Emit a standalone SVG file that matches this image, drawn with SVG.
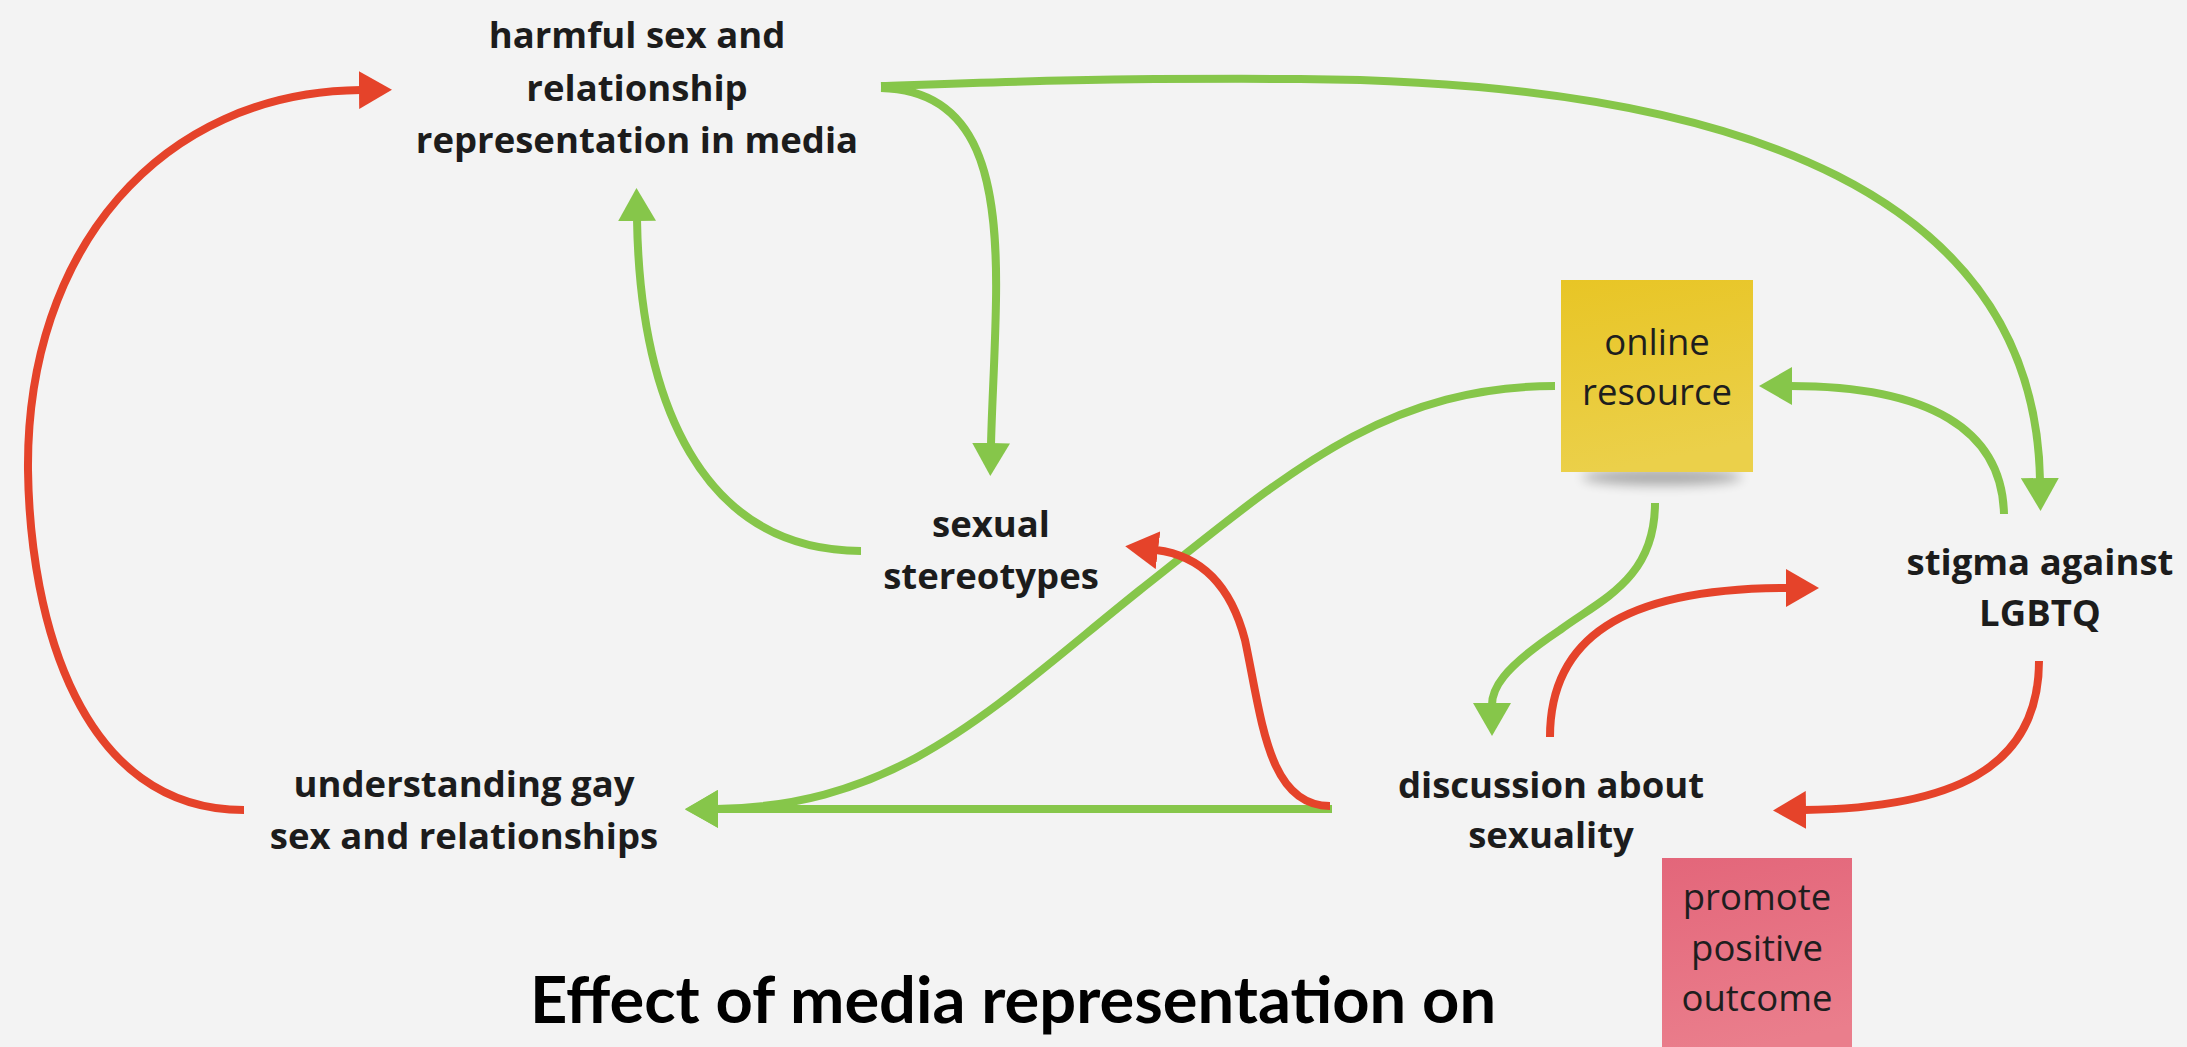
<svg xmlns="http://www.w3.org/2000/svg" width="2187" height="1047" viewBox="0 0 2187 1047">
<defs>
<style>
.lbl{font-family:"Open Sans","Noto Sans","Liberation Sans",sans-serif;font-weight:700;font-size:36.5px;fill:#1c1c1c;text-anchor:middle}
.stk{font-family:"Open Sans","Noto Sans","Liberation Sans",sans-serif;font-weight:400;font-size:36.5px;fill:#1e1e1e;text-anchor:middle}
.ttl{font-family:"Lato","Open Sans","Liberation Sans",sans-serif;font-weight:700;font-size:65px;fill:#000;text-anchor:middle}
.g{fill:none;stroke:#86C64A;stroke-width:8;stroke-linecap:butt}
.r{fill:none;stroke:#E5432A;stroke-width:8;stroke-linecap:butt}
</style>
<marker id="ag" markerUnits="userSpaceOnUse" markerWidth="34" markerHeight="38" viewBox="0 0 34 38" refX="2" refY="19" orient="auto">
<path d="M0,0 L33,19 L0,38 Z" fill="#86C64A"/>
</marker>
<marker id="ar" markerUnits="userSpaceOnUse" markerWidth="34" markerHeight="38" viewBox="0 0 34 38" refX="2" refY="19" orient="auto">
<path d="M0,0 L33,19 L0,38 Z" fill="#E5432A"/>
</marker>
<linearGradient id="yel" x1="0" y1="0" x2="0.2" y2="1">
<stop offset="0" stop-color="#E8C525"/>
<stop offset="1" stop-color="#EBD04A"/>
</linearGradient>
<linearGradient id="pnk" x1="0" y1="0" x2="0.2" y2="1">
<stop offset="0" stop-color="#E3667A"/>
<stop offset="1" stop-color="#EA7E8C"/>
</linearGradient>
<filter id="blur" x="-20%" y="-100%" width="140%" height="300%">
<feGaussianBlur stdDeviation="6"/>
</filter>
</defs>
<rect width="2187" height="1047" fill="#F3F3F3"/>

<g id="connectors">
<path class="r" d="M244 810 C80 810 30 620 28 470 C26 250 160 92 361 90" marker-end="url(#ar)"/>
<path class="g" d="M881 86 C1000 82 1100 78 1300 79 C1750 82 2035 200 2040 480" marker-end="url(#ag)"/>
<path class="g" d="M881 88 C980 90 998 180 996 300 C995 360 992 400 991 445" marker-end="url(#ag)"/>
<path class="g" d="M861 551 C700 550 640 400 637 219" marker-end="url(#ag)"/>
<path class="g" d="M1555 386 C1380 386 1280 480 1140 590 C990 710 900 806 716 809" marker-end="url(#ag)"/>
<path class="g" d="M1332 809 L716 809" marker-end="url(#ag)"/>
<path class="r" d="M1330 806 C1268 806 1262 720 1245 640 C1232 590 1205 556 1156 550" marker-end="url(#ar)"/>
<path class="g" d="M2004 514 C2002 430 1930 386 1790 386" marker-end="url(#ag)"/>
<path class="g" d="M1655 503 C1655 580 1600 600 1560 630 C1500 670 1492 690 1492 705" marker-end="url(#ag)"/>
<path class="r" d="M1550 737 C1550 640 1620 588 1788 588" marker-end="url(#ar)"/>
<path class="r" d="M2039 661 C2039 770 1950 808 1804 810" marker-end="url(#ar)"/>
</g>

<g id="n-harmful">
<text class="lbl" x="637" y="48">harmful sex and</text>
<text class="lbl" x="637" y="101">relationship</text>
<text class="lbl" x="637" y="153">representation in media</text>
</g>
<g id="n-stereotypes">
<text class="lbl" x="991" y="537">sexual</text>
<text class="lbl" x="991" y="589">stereotypes</text>
</g>
<g id="n-understanding">
<text class="lbl" x="464" y="797">understanding gay</text>
<text class="lbl" x="464" y="849">sex and relationships</text>
</g>
<g id="n-discussion">
<text class="lbl" x="1551" y="798">discussion about</text>
<text class="lbl" x="1551" y="848">sexuality</text>
</g>
<g id="n-stigma">
<text class="lbl" x="2040" y="575">stigma against</text>
<text class="lbl" x="2040" y="626">LGBTQ</text>
</g>
<g id="n-online">
<ellipse cx="1662" cy="477" rx="80" ry="8" fill="#000" opacity="0.3" filter="url(#blur)"/>
<rect x="1561" y="280" width="192" height="192" fill="url(#yel)"/>
<text class="stk" x="1657" y="355">online</text>
<text class="stk" x="1657" y="405">resource</text>
</g>
<g id="n-promote">
<rect x="1662" y="858" width="190" height="200" fill="url(#pnk)"/>
<text class="stk" x="1757" y="910">promote</text>
<text class="stk" x="1757" y="961">positive</text>
<text class="stk" x="1757" y="1011">outcome</text>
</g>
<g id="title">
<text class="ttl" x="1013" y="1023">Effect of media representation on</text>
</g>
</svg>
